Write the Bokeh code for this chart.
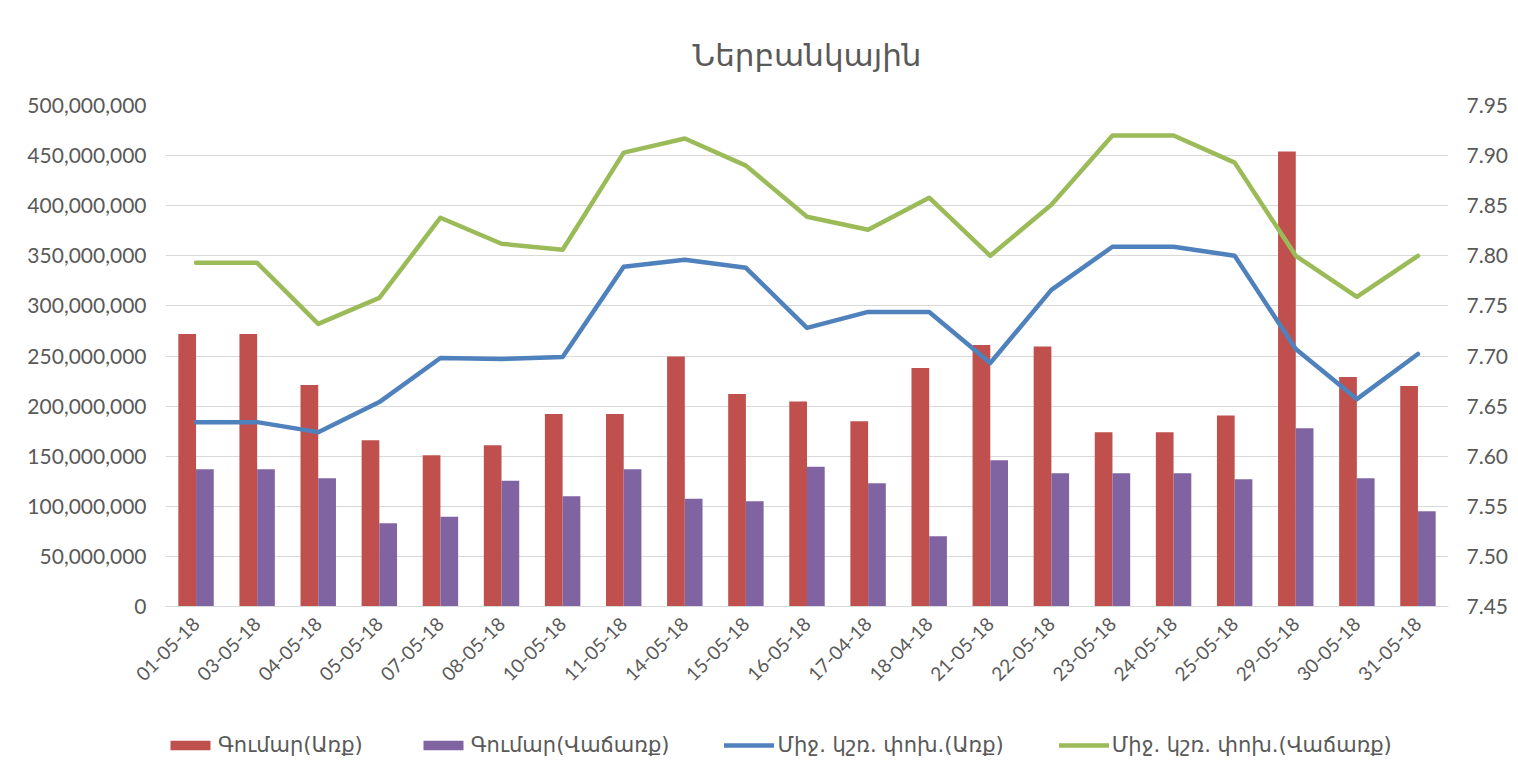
import math
from bokeh.plotting import figure
from bokeh.layouts import column
from bokeh.models import (ColumnDataSource, FactorRange, Range1d, LinearAxis, FixedTicker,
                          NumeralTickFormatter, Legend, LegendItem)
from bokeh.transform import dodge
from bokeh.embed import file_html
from bokeh.resources import INLINE

dates = ["01-05-18", "03-05-18", "04-05-18", "05-05-18", "07-05-18", "08-05-18", "10-05-18",
         "11-05-18", "14-05-18", "15-05-18", "16-05-18", "17-04-18", "18-04-18", "21-05-18",
         "22-05-18", "23-05-18", "24-05-18", "25-05-18", "29-05-18", "30-05-18", "31-05-18"]
buy_amount = [272000000, 272000000, 221000000, 166000000, 151000000, 161000000, 192000000,
              192000000, 249500000, 212000000, 204600000, 185000000, 238000000, 261000000,
              259500000, 174000000, 174000000, 190600000, 454000000, 229000000, 220000000]
sell_amount = [137000000, 137000000, 128000000, 83000000, 89500000, 125500000, 110000000,
               137000000, 107500000, 105000000, 139500000, 123000000, 70000000, 146000000,
               133000000, 133000000, 133000000, 127000000, 178000000, 128000000, 95000000]
buy_rate = [7.634, 7.634, 7.624, 7.654, 7.698, 7.697, 7.699, 7.789, 7.796, 7.788, 7.728,
            7.744, 7.744, 7.693, 7.766, 7.809, 7.809, 7.800, 7.707, 7.657, 7.702]
sell_rate = [7.793, 7.793, 7.732, 7.758, 7.838, 7.812, 7.806, 7.903, 7.917, 7.890, 7.839,
             7.826, 7.858, 7.800, 7.851, 7.920, 7.920, 7.893, 7.800, 7.759, 7.800]
left_ticks = [0, 50000000, 100000000, 150000000, 200000000, 250000000, 300000000,
              350000000, 400000000, 450000000, 500000000]
right_ticks = [7.45, 7.50, 7.55, 7.60, 7.65, 7.70, 7.75, 7.80, 7.85, 7.90, 7.95]

title_text = "Ներբանկային"
legend_labels = ["Գումար(Առք)", "Գումար(Վաճառք)", "Միջ. կշռ. փոխ.(Առք)", "Միջ. կշռ. փոխ.(Վաճառք)"]

RED = "#C0504D"
PURPLE = "#8064A2"
BLUE = "#4F81BD"
GREEN = "#9BBB59"
TXT = "#595959"
GRID = "#d9d9d9"
TICK_FONT = "Lato"
ARM_FONT = "DejaVu Sans"
W = 1510

src = ColumnDataSource(dict(date=dates, buy=buy_amount, sell=sell_amount,
                            brate=buy_rate, srate=sell_rate))

p = figure(width=W, height=725, x_range=FactorRange(factors=dates, range_padding=0),
           y_range=Range1d(0, 500000000), output_backend="svg", toolbar_location=None,
           min_border_left=165, min_border_right=57, min_border_top=105, min_border_bottom=119)
p.extra_y_ranges = {"rate": Range1d(7.45, 7.95)}

p.title.text = title_text
p.title.align = "center"
p.title.text_font = ARM_FONT
p.title.text_font_size = "31px"
p.title.text_font_style = "normal"
p.title.text_color = TXT
p.title.standoff = 66

p.outline_line_color = None
p.xgrid.grid_line_color = None
p.ygrid.grid_line_color = GRID
p.ygrid.grid_line_width = 1

r_buy = p.vbar(x=dodge("date", -0.145, range=p.x_range), top="buy", width=0.29, source=src,
               fill_color=RED, line_color=None)
r_sell = p.vbar(x=dodge("date", 0.145, range=p.x_range), top="sell", width=0.29, source=src,
                fill_color=PURPLE, line_color=None)
r_brate = p.line(x="date", y="brate", source=src, y_range_name="rate", line_color=BLUE,
                 line_width=4.5, line_join="round", line_cap="round")
r_srate = p.line(x="date", y="srate", source=src, y_range_name="rate", line_color=GREEN,
                 line_width=4.5, line_join="round", line_cap="round")

# left axis
yl = p.yaxis[0]
yl.ticker = FixedTicker(ticks=left_ticks)
yl.formatter = NumeralTickFormatter(format="0,0")
yl.axis_line_color = None
yl.major_tick_line_color = None
yl.minor_tick_line_color = None
yl.major_label_text_font = TICK_FONT
yl.major_label_text_font_size = "21px"
yl.major_label_text_color = TXT
yl.major_label_standoff = 13

# right axis
yr = LinearAxis(y_range_name="rate", ticker=FixedTicker(ticks=right_ticks),
                formatter=NumeralTickFormatter(format="0.00"))
yr.axis_line_color = None
yr.major_tick_line_color = None
yr.minor_tick_line_color = None
yr.major_label_text_font = TICK_FONT
yr.major_label_text_font_size = "21px"
yr.major_label_text_color = TXT
yr.major_label_standoff = 12
p.add_layout(yr, "right")

# x axis
xa = p.xaxis[0]
xa.axis_line_color = GRID
xa.axis_line_width = 1
xa.major_tick_line_color = None
xa.minor_tick_line_color = None
xa.major_label_orientation = math.pi / 4
xa.major_label_text_font = TICK_FONT
xa.major_label_text_font_size = "19px"
xa.major_label_text_color = TXT
xa.major_label_standoff = 8

# legend in its own strip below the chart; its glyphs reuse the series styling, but the
# strip's x range holds other factors, so the series themselves are not drawn there
lg = figure(width=W, height=47, x_range=FactorRange(factors=legend_labels),
            y_range=Range1d(0, 1), extra_y_ranges={"rate": Range1d(0, 1)},
            output_backend="svg", toolbar_location=None, min_border=0,
            x_axis_type=None, y_axis_type=None)
lg.outline_line_color = None
lg.grid.visible = False
l_buy = lg.vbar(x="date", top="buy", width=0.29, source=src,
                fill_color=RED, line_color=None)
l_sell = lg.vbar(x="date", top="sell", width=0.29, source=src,
                 fill_color=PURPLE, line_color=None)
l_brate = lg.line(x="date", y="brate", source=src, y_range_name="rate", line_color=BLUE,
                  line_width=4.5, line_cap="round")
l_srate = lg.line(x="date", y="srate", source=src, y_range_name="rate", line_color=GREEN,
                  line_width=4.5, line_cap="round")
legend = Legend(items=[LegendItem(label=legend_labels[0], renderers=[l_buy]),
                       LegendItem(label=legend_labels[1], renderers=[l_sell]),
                       LegendItem(label=legend_labels[2], renderers=[l_brate]),
                       LegendItem(label=legend_labels[3], renderers=[l_srate])],
                orientation="horizontal", location=(0, 15),
                glyph_width=50, glyph_height=12, label_standoff=3, spacing=55,
                padding=0, margin=0, border_line_color=None, background_fill_alpha=0,
                label_text_font=ARM_FONT, label_text_font_size="21px",
                label_text_color=TXT)
lg.add_layout(legend, "center")

open("out.html", "w").write(file_html(column(p, lg, spacing=0), INLINE))
